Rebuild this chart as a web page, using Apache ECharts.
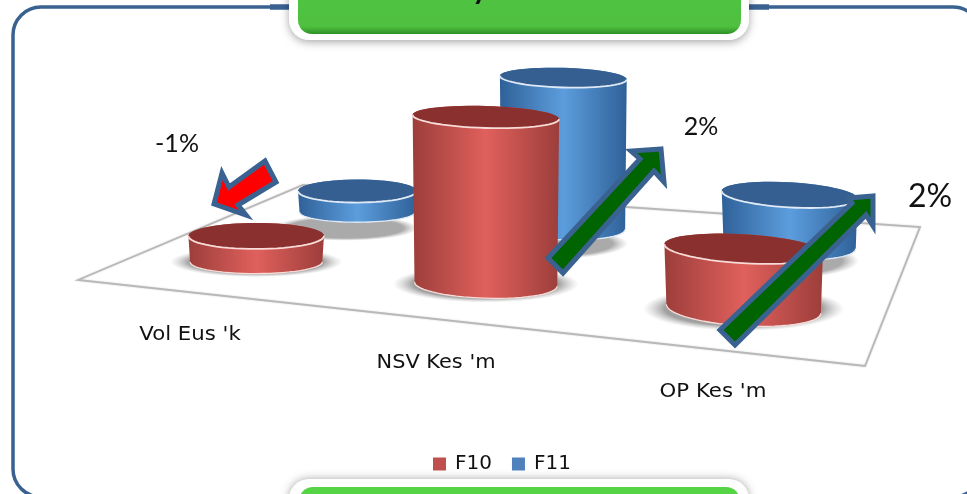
<!DOCTYPE html>
<html><head><meta charset="utf-8">
<style>html,body{margin:0;padding:0;background:#fff}#c{width:967px;height:494px}</style>
<script src="https://cdn.jsdelivr.net/npm/echarts@6/dist/echarts.min.js"></script>
</head><body><div id="c"></div>
<script>
// ---- data (no axis in the source: heights are read in picture units) ----
const categories = ["Vol Eus 'k", "NSV Kes 'm", "OP Kes 'm"];
const seriesNames = ["F10", "F11"];
const f10Values = [26, 167, 60];
const f11Values = [21, 150, 50];
const changeLabels = ["-1%", "2%", "2%"];

// ---- floor plane (perspective projection of category / series slots) ----
const H = {a:590.5,b:314.6,c:78,d:2.8,e:-40.3,f:280,g:-0.2272,h:0.2958};
const slotNudge = [0.016, 0.021, 0.012];
function project(u, v) {
  const w = H.g*u + H.h*v + 1;
  return {x:(H.a*u+H.b*v+H.c)/w, y:(H.d*u+H.e*v+H.f)/w, w};
}
function ellipsePts(cx, cy, rx, ry, rot, a0, a1, n) {
  const p = [], cr = Math.cos(rot), sr = Math.sin(rot);
  for (let i = 0; i <= n; i++) {
    const t = a0 + (a1-a0)*i/n, ex = rx*Math.cos(t), ey = ry*Math.sin(t);
    p.push([cx+ex*cr-ey*sr, cy+ex*sr+ey*cr]);
  }
  return p;
}
const palette = {
  F10:{edge:'#9c3e3b',mid:'#e0605c',top:'#8a302e',rim:'#f8dcd8',legend:'#c0504d'},
  F11:{edge:'#2f6198',mid:'#5c9ddd',top:'#365f91',rim:'#dfeaf6',legend:'#4f81bd'}
};
function softShadow(cx, cy, rx, ry, inner, core) {
  return {type:'circle',x:cx,y:cy,scaleY:ry/rx,shape:{cx:0,cy:0,r:rx},
    style:{fill:new echarts.graphic.RadialGradient(0.5,0.5,0.5,[
      {offset:0,color:inner},{offset:core,color:inner},{offset:1,color:'rgba(190,190,190,0)'}])}};
}
function cylinderSeries(name, values, sIdx) {
  const c = palette[name];
  const depth = sIdx === 0 ? 0.25 : 0.75;
  return {
    name, type:'custom', coordinateSystem:'cartesian2d', z: sIdx === 0 ? 4 : 3,
    itemStyle:{color:c.legend}, clip:false,
    data: values.map((v,i)=>[categories[i], v]),
    renderItem(params, api) {
      const i = params.dataIndex, u = (i+0.5)/3 + slotNudge[i];
      const h = api.size([0, api.value(1)])[1];
      const b = project(u, depth);
      const rx = 70/b.w, topK = 0.2 - h*0.0003, ryT = rx*topK, ryB = rx*(0.16+0.065*u);
      const rot = (u-0.2)*0.09;
      const cx = b.x, by = b.y, ty = by-h, rxB = rx*0.975;
      const lower = ellipsePts(cx, by, rxB, ryB, rot, 0, Math.PI, 30);
      const upper = ellipsePts(cx, ty, rx, ryT, rot, Math.PI, 2*Math.PI, 30);
      const front = ellipsePts(cx, ty, rx, ryT, rot, 0, Math.PI, 30);
      const grad = new echarts.graphic.LinearGradient(0,0,1,0,[
        {offset:0,color:c.edge},{offset:0.5,color:c.mid},{offset:1,color:c.edge}]);
      const shadow = sIdx === 0
        ? softShadow(cx, by, rx*1.27, ryB*1.3, 'rgba(150,150,150,0.9)', 0.78)
        : softShadow(cx-0.2*rx, by+16, rx*1.22, ryB*1.25, 'rgba(170,170,170,1)', 0.8);
      return {type:'group',children:[
        shadow,
        {type:'polygon',shape:{points:lower.concat(upper)},style:{fill:grad}},
        {type:'polyline',shape:{points:lower},style:{fill:null,stroke:c.rim,lineWidth:1.3}},
        {type:'ellipse',shape:{cx:cx,cy:ty,rx:rx,ry:ryT},rotation:-rot,originX:cx,originY:ty,
         style:{fill:c.top}},
        {type:'polyline',shape:{points:front},style:{fill:null,stroke:c.rim,lineWidth:1.8}}
      ]};
    }
  };
}
// ---- decoration shapes ----
const floorPts = [[78,280],[303,185],[920,227],[865,366]];
const redArrow = [[214,204],[222,173],[229,187],[265,161],[276,182],[238,205],[246,215]];
const greenArrowA = [[661,149],[631,151],[640,159],[548,258],[563,273],[654,171],[664,182]];
const greenArrowB = [[873,196],[849,198],[852,203],[720,330],[735,345],[866,215],[873,226]];
const arrowStroke = '#3a6291';
const pill = (x,y,w,h,r,fill,extra)=>({type:'rect',z:20,shape:{x,y,width:w,height:h,r},style:Object.assign({fill},extra||{})});
const txt = (x,y,s,size,font,sx)=>({type:'text',z:22,x,y,scaleX:sx||1,style:{text:s,fill:'#111',font:size+'px '+font,textAlign:'center',textVerticalAlign:'middle'}});

const chart = echarts.init(document.getElementById('c'),null,{renderer:'canvas'});
chart.setOption({
  animation:false,
  backgroundColor:'#fff',
  grid:{left:0,top:0,width:967,height:494,containLabel:false},
  xAxis:{type:'category',data:categories,show:false},
  yAxis:{type:'value',min:0,max:494,interval:494,show:false},
  legend:{data:seriesNames,left:428,top:449,itemWidth:13,itemHeight:13,itemGap:20,icon:'rect',
    textStyle:{fontFamily:'DejaVu Sans',fontSize:20,color:'#111',padding:[0,0,0,4]},z:25},
  series:[cylinderSeries('F10',f10Values,0),cylinderSeries('F11',f11Values,1)],
  graphic:{elements:[
    {type:'rect',z:0,shape:{x:13,y:7,width:968,height:490,r:28},style:{fill:'#fff',stroke:'#3a6291',lineWidth:3.5}},
    {type:'line',z:1,shape:{x1:270,y1:7,x2:295,y2:7},style:{stroke:'#3a6291',lineWidth:5.5}},
    {type:'line',z:1,shape:{x1:745,y1:7,x2:769,y2:7},style:{stroke:'#3a6291',lineWidth:5.5}},
    {type:'polygon',z:1,shape:{points:floorPts},style:{fill:'#fff',stroke:'#b8b8b8',lineWidth:1.8,shadowBlur:2,shadowColor:'rgba(0,0,0,0.15)'}},
    txt(190,335,categories[0],19,'DejaVu Sans',1.12),
    txt(436,363,categories[1],19,'DejaVu Sans',1.1),
    txt(713,392,categories[2],19,'DejaVu Sans',1.12),
    {type:'polygon',z:10,shape:{points:redArrow},style:{fill:'#ff0000',stroke:arrowStroke,lineWidth:5,lineJoin:'miter'}},
    {type:'polygon',z:10,shape:{points:greenArrowA},style:{fill:'#006400',stroke:arrowStroke,lineWidth:5,lineJoin:'miter'}},
    {type:'polygon',z:10,shape:{points:greenArrowB},style:{fill:'#006400',stroke:arrowStroke,lineWidth:5,lineJoin:'miter'}},
    txt(177,144,changeLabels[0],25,'Lato'),
    txt(701,127,changeLabels[1],25,'Lato'),
    txt(930,197,changeLabels[2],32,'Lato'),
    pill(289,-30,460,70,20,'#fff',{shadowBlur:8,shadowColor:'rgba(0,0,0,0.35)',shadowOffsetY:2}),
    {type:'rect',z:21,shape:{x:298,y:-30,width:443,height:64,r:14},style:{fill:new echarts.graphic.LinearGradient(0,0,0,1,[{offset:0,color:'#4fc644'},{offset:0.88,color:'#4fc040'},{offset:1,color:'#2f8f26'}])}},
    {type:'text',z:22,x:480,y:4,style:{text:'y',fill:'#111',font:'bold 30px Lato',textAlign:'center',textVerticalAlign:'bottom'}},
    pill(289,479,460,40,20,'#fff',{shadowBlur:8,shadowColor:'rgba(0,0,0,0.35)'}),
    {type:'rect',z:21,shape:{x:299,y:487,width:441,height:30,r:14},style:{fill:'#55d545'}}
  ]}
});
</script></body></html>
